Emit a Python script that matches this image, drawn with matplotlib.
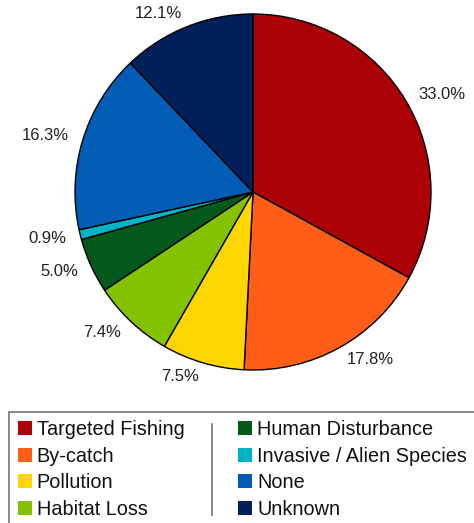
import matplotlib
matplotlib.use("Agg")
import matplotlib.pyplot as plt
from matplotlib.patches import Rectangle
from matplotlib.lines import Line2D

plt.rcParams["font.family"] = ["Liberation Sans", "DejaVu Sans"]

categories = ["Targeted Fishing", "By-catch", "Pollution", "Habitat Loss",
              "Human Disturbance", "Invasive / Alien Species", "None", "Unknown"]
shares = [33.0, 17.8, 7.5, 7.4, 5.0, 0.9, 16.3, 12.1]
colors = ["#AA0006", "#FF5E19", "#FFD600", "#84C200",
          "#03591C", "#00B2C6", "#005CB4", "#00205A"]

W, H = 474, 523
fig = plt.figure(figsize=(W / 100, H / 100), dpi=100)

# pie axes: centre (253, 192) px, radius 178 px
cx, cy, R, k = 253, 192, 178, 1.3
ax = fig.add_axes([(cx - R * k) / W, (H - cy - R * k) / H, 2 * R * k / W, 2 * R * k / H])
wedges, texts = ax.pie(shares, colors=colors, startangle=90, counterclock=False,
                       labels=[f"{v:.1f}%" for v in shares], labeldistance=1.08,
                       wedgeprops=dict(edgecolor="black", linewidth=1.0),
                       textprops=dict(fontsize=12, color="#222222"))
ax.set_xlim(-k, k)
ax.set_ylim(-k, k)
ax.set_aspect("equal")
ax.axis("off")

# legend box (runs off the right/bottom edge)
fig.add_artist(Rectangle((9 / W, -0.05), 1.0, (H - 412) / H + 0.05, transform=fig.transFigure,
                         facecolor="white", edgecolor="#777777", linewidth=1.2))
fig.add_artist(Line2D([212 / W, 212 / W], [(H - 424) / H, (H - 515) / H],
                      transform=fig.transFigure, color="#777777", linewidth=1.2))

leg = fig.legend(wedges, categories, ncol=2, frameon=False, loc="upper left",
                 bbox_to_anchor=(18 / W, (H - 420) / H), fontsize=14.3,
                 handlelength=0.7, handleheight=0.7, handletextpad=0.25,
                 labelspacing=0.38, columnspacing=2.7, borderpad=0, borderaxespad=0)
for h in leg.legend_handles:
    h.set_edgecolor("none")
for t in leg.get_texts():
    t.set_color("#111111")

fig.savefig("out.png", dpi=100)
